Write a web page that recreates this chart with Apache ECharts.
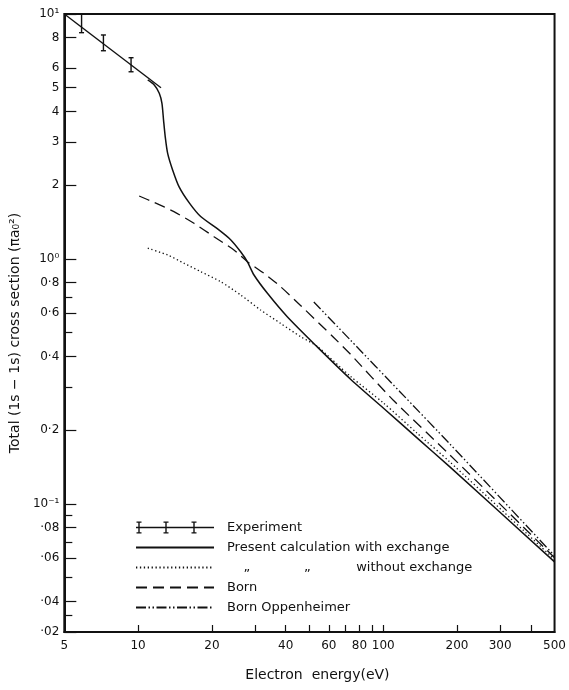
<!DOCTYPE html>
<html>
<head>
<meta charset="utf-8">
<script src="https://cdn.jsdelivr.net/npm/echarts@6/dist/echarts.min.js"></script>
<style>
html,body{margin:0;padding:0;background:#fff;}
#chart{width:569px;height:690px;}
</style>
</head>
<body>
<div id="chart"></div>
<script>
// ---- data (energy in eV, cross section in units of pi a0^2) ----
const expE = [5.88, 7.22, 9.36];
const expLow = [8.39, 7.08, 5.81];
const expHigh = [10.0, 8.21, 6.63];
const expLineE = [5, 12.4];
const expLineS = [10, 5.0];

const solidE = [10.95, 11.64, 12.2, 12.51, 12.7, 12.9, 13.2, 13.83, 14.7, 16.2, 18.0, 21.1, 23.9, 26.2, 27.9, 29.7, 33.7, 40.6, 53.8, 73.4, 100.3, 137, 187, 500];
const solidS = [5.38, 5.13, 4.75, 4.32, 3.69, 3.16, 2.70, 2.31, 1.97, 1.69, 1.49, 1.326, 1.196, 1.07, 0.975, 0.86, 0.724, 0.581, 0.4375, 0.3237, 0.2458, 0.1865, 0.1416, 0.058];

const dottedE = [10.95, 13.2, 15.4, 18.0, 21.7, 26.2, 31.6, 38.1, 46.0, 53.8, 73.4, 100.3, 137, 187, 500];
const dottedS = [1.106, 1.038, 0.960, 0.888, 0.808, 0.713, 0.619, 0.546, 0.482, 0.4395, 0.332, 0.258, 0.195, 0.1484, 0.0593];

const bornE = [10.1, 11.64, 14.0, 16.9, 20.4, 24.6, 27.9, 32.6, 38.1, 46.0, 62.8, 73.4, 109.7, 187, 500];
const bornS = [1.807, 1.70, 1.56, 1.398, 1.233, 1.088, 0.975, 0.874, 0.771, 0.646, 0.478, 0.409, 0.2657, 0.1585, 0.0603];

const boE = [52.1, 73.4, 117.2, 187, 500];
const boS = [0.6675, 0.467, 0.2865, 0.1757, 0.0614];

const xTickVals = [10, 20, 30, 40, 50, 60, 70, 80, 90, 100, 200, 300, 400];
const xLabelVals = [5, 10, 20, 40, 60, 80, 100, 200, 300, 500];
const xLabelText = ['5', '10', '20', '40', '60', '80', '100', '200', '300', '500'];

const yLabelVals = [10, 8, 6, 5, 4, 3, 2, 1, 0.8, 0.6, 0.4, 0.2, 0.1, 0.08, 0.06, 0.04, 0.03];
const yLabelText = ['10¹', '8', '6', '5', '4', '3', '2', '10⁰', '0·8', '0·6', '0·4', '0·2', '10⁻¹', '·08', '·06', '·04', '·02'];
const yMinorVals = [0.7, 0.5, 0.3, 0.09, 0.07, 0.05, 0.035];

const names = ['Experiment', 'Present calculation with exchange', '    „             „           without exchange', 'Born', 'Born Oppenheimer'];

// ---- helpers ----
const pairs = (a, b) => a.map((v, i) => [v, b[i]]);
const lookup = (vals, texts) => v => {
  for (let i = 0; i < vals.length; i++) if (Math.abs(vals[i] - v) / vals[i] < 1e-6) return texts[i];
  return '';
};
const ink = '#111';
const FONT = 'DejaVu Sans';

const expIcon = (() => {
  let p = 'path://M0 5.3H78V6.7H0Z';
  [3, 30, 58].forEach(c => {
    p += `M${c - 0.7} 0H${c + 0.7}V12H${c - 0.7}Z`;
    p += `M${c - 2.5} 0H${c + 2.5}V1.3H${c - 2.5}Z`;
    p += `M${c - 2.5} 10.7H${c + 2.5}V12H${c - 2.5}Z`;
  });
  return p;
})();

const chart = echarts.init(document.getElementById('chart'), null, {renderer: 'canvas'});
const lineBase = {type: 'line', symbol: 'none', smooth: 0.25, itemStyle: {color: ink}};
const option = {
  animation: false,
  backgroundColor: '#fff',
  textStyle: {fontFamily: FONT, color: ink},
  grid: {left: 63, right: 12, top: 14, bottom: 58, show: true, borderColor: ink, borderWidth: 2, backgroundColor: 'transparent'},
  legend: {
    orient: 'vertical', left: 135, top: 521, padding: 0,
    itemWidth: 78, itemHeight: 12, itemGap: 7,
    textStyle: {fontFamily: FONT, fontSize: 13, color: ink, padding: [0, 0, 0, 8]},
    itemStyle: {color: 'rgba(0,0,0,0)', borderColor: 'rgba(0,0,0,0)', borderWidth: 0},
    selectedMode: false,
    data: [
      {name: names[0], icon: expIcon, itemStyle: {color: ink}},
      names[1], names[2], names[3], names[4]
    ]
  },
  xAxis: {
    type: 'log', logBase: 10, min: 5, max: 500,
    name: 'Electron  energy(eV)', nameLocation: 'middle', nameGap: 36,
    nameTextStyle: {fontFamily: FONT, fontSize: 14, color: ink, padding: [0, 0, 0, 16]},
    axisLine: {show: true, lineStyle: {color: ink, width: 2}},
    axisTick: {show: true, inside: true, length: 7, customValues: xTickVals, lineStyle: {color: ink, width: 1.2}},
    axisLabel: {show: true, customValues: xLabelVals, formatter: lookup(xLabelVals, xLabelText), fontFamily: FONT, fontSize: 12, color: ink, margin: 8},
    splitLine: {show: false}, minorTick: {show: false}, minorSplitLine: {show: false}
  },
  yAxis: [{
    type: 'log', logBase: 10, min: 0.03, max: 10,
    name: 'Total (1s − 1s) cross section (πa₀²)', nameLocation: 'middle', nameGap: 36, nameRotate: 90,
    nameTextStyle: {fontFamily: FONT, fontSize: 14, color: ink, padding: [0, 20, 0, 0]},
    axisLine: {show: true, lineStyle: {color: ink, width: 2}},
    axisTick: {show: true, inside: true, length: 12, customValues: yLabelVals, lineStyle: {color: ink, width: 1.2}},
    axisLabel: {show: true, customValues: yLabelVals, formatter: lookup(yLabelVals, yLabelText), fontFamily: FONT, fontSize: 12, color: ink, margin: 5},
    splitLine: {show: false}, minorTick: {show: false}
  }, {
    type: 'log', logBase: 10, min: 0.03, max: 10, position: 'left',
    axisLine: {show: false},
    axisTick: {show: true, inside: true, length: 8, customValues: yMinorVals, lineStyle: {color: ink, width: 1.2}},
    axisLabel: {show: false},
    splitLine: {show: false}
  }],
  series: [
    {name: names[0], type: 'line', data: pairs(expLineE, expLineS), symbol: 'none', lineStyle: {color: ink, width: 1.4}, itemStyle: {color: ink}},
    {
      name: names[0], type: 'custom', data: expE.map((e, i) => [e, expLow[i], expHigh[i]]),
      encode: {x: 0, y: [1, 2]}, itemStyle: {color: ink},
      renderItem: (params, api) => {
        const x = api.value(0);
        const lo = api.coord([x, api.value(1)]);
        const hi = api.coord([x, api.value(2)]);
        const w = 2.5, st = {stroke: ink, lineWidth: 1.4};
        return {type: 'group', children: [
          {type: 'line', shape: {x1: hi[0], y1: hi[1], x2: lo[0], y2: lo[1]}, style: st},
          {type: 'line', shape: {x1: hi[0] - w, y1: hi[1], x2: hi[0] + w, y2: hi[1]}, style: st},
          {type: 'line', shape: {x1: lo[0] - w, y1: lo[1], x2: lo[0] + w, y2: lo[1]}, style: st}
        ]};
      }
    },
    Object.assign({}, lineBase, {name: names[1], data: pairs(solidE, solidS), lineStyle: {color: ink, width: 1.5}}),
    Object.assign({}, lineBase, {name: names[2], data: pairs(dottedE, dottedS), lineStyle: {color: ink, width: 1.3, type: [1.3, 2.6]}}),
    Object.assign({}, lineBase, {name: names[3], data: pairs(bornE, bornS), lineStyle: {color: ink, width: 1.3, type: [11, 6]}}),
    Object.assign({}, lineBase, {name: names[4], data: pairs(boE, boS), lineStyle: {color: ink, width: 1.3, type: [10, 2.5, 1.5, 2.5, 1.5, 2.5]}})
  ]
};
chart.setOption(option);
</script>
</body>
</html>
